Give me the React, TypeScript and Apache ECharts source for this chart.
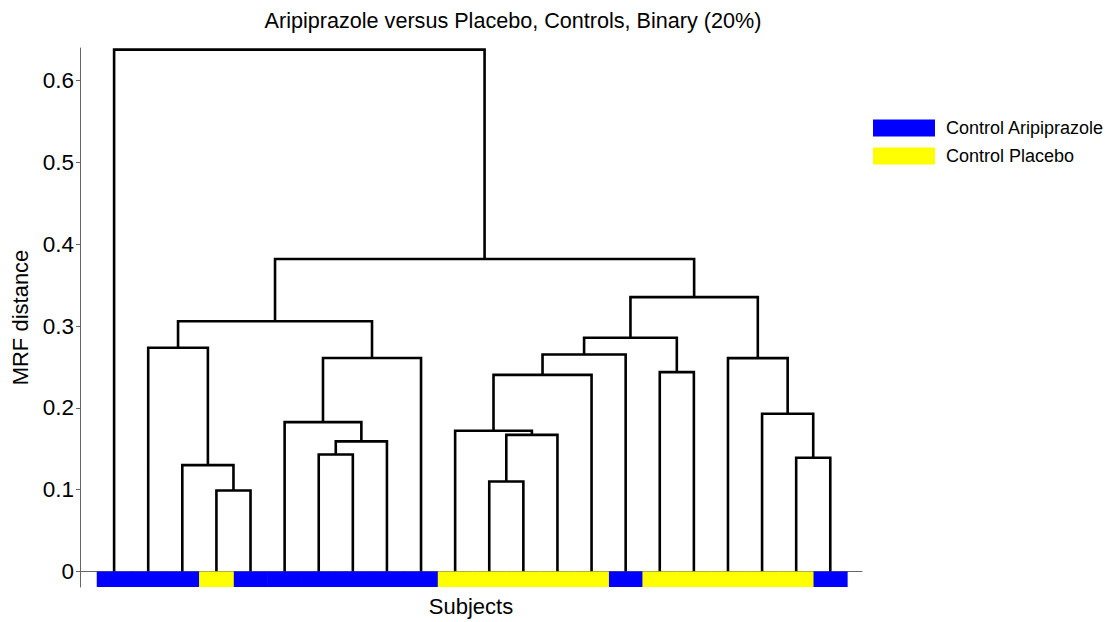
import React, { useEffect, useRef } from "react";
import * as echarts from "echarts";

// Leaf groups in display order (left to right)
const leafGroups = [
  "Control Aripiprazole", "Control Aripiprazole", "Control Aripiprazole", "Control Placebo",
  "Control Aripiprazole", "Control Aripiprazole", "Control Aripiprazole", "Control Aripiprazole",
  "Control Aripiprazole", "Control Aripiprazole", "Control Placebo", "Control Placebo",
  "Control Placebo", "Control Placebo", "Control Placebo", "Control Aripiprazole",
  "Control Placebo", "Control Placebo", "Control Placebo", "Control Placebo",
  "Control Placebo", "Control Aripiprazole",
];

// Linkage: node ids 0..21 are leaves, 22.. are merges in order
const mergeLeft = [3, 2, 1, 6, 25, 5, 27, 24, 11, 30, 10, 32, 33, 16, 34, 20, 19, 18, 36, 29, 0];
const mergeRight = [4, 22, 23, 7, 8, 26, 9, 28, 12, 13, 31, 14, 15, 17, 35, 21, 37, 38, 39, 40, 41];
const mergeHeight = [0.099, 0.130, 0.2735, 0.143, 0.159, 0.1826, 0.261, 0.306, 0.110, 0.167, 0.172, 0.2404, 0.2653, 0.2437, 0.2857, 0.139, 0.1928, 0.2608, 0.3354, 0.382, 0.638];

const groupNames = ["Control Aripiprazole", "Control Placebo"];
const groupColors = ["#0000ff", "#ffff00"];
const yTicks = [0, 0.1, 0.2, 0.3, 0.4, 0.5, 0.6];

const Y_MIN = -0.019;
const Y_MAX = 0.64;
const X_MAX = 22.93;

export default function App() {
  const ref = useRef<HTMLDivElement>(null);

  useEffect(() => {
    if (!ref.current) return;
    const chart = echarts.init(ref.current, null, { renderer: "svg" });

    const nodeX: number[] = leafGroups.map((_, i) => i + 1);
    const nodeH: number[] = leafGroups.map(() => 0);
    const links: number[][] = [];
    for (let k = 0; k < mergeLeft.length; k++) {
      const l = mergeLeft[k];
      const r = mergeRight[k];
      links.push([nodeX[l], nodeH[l], nodeX[r], nodeH[r], mergeHeight[k]]);
      nodeX.push((nodeX[l] + nodeX[r]) / 2);
      nodeH.push(mergeHeight[k]);
    }

    const font = "'Liberation Sans', Arial, Helvetica, sans-serif";

    const stripSeries = groupNames.map((g, gi) => ({
      type: "custom",
      name: g,
      itemStyle: { color: groupColors[gi] },
      z: 5,
      data: leafGroups.map((lg, i) => (lg === g ? [i + 1, 0] : null)).filter((d) => d !== null),
      encode: { x: 0, y: 1 },
      renderItem: (params: any, api: any) => {
        const x = api.value(0);
        const a = api.coord([x - 0.5, 0]);
        const b = api.coord([x + 0.5, Y_MIN]);
        return {
          type: "rect",
          shape: { x: a[0] - 0.3, y: a[1], width: b[0] - a[0] + 0.6, height: b[1] - a[1] },
          style: { fill: groupColors[gi] },
        };
      },
    }));

    chart.setOption({
      animation: false,
      title: {
        text: "Aripiprazole versus Placebo, Controls, Binary (20%)",
        left: 508,
        top: 4,
        textAlign: "center",
        textStyle: { fontSize: 21.6, fontWeight: "normal", color: "#000", fontFamily: font },
      },
      legend: {
        orient: "vertical",
        left: 868,
        top: 114,
        icon: "rect",
        itemWidth: 62,
        itemHeight: 17,
        itemGap: 10,
        data: groupNames,
        textStyle: { fontSize: 18, color: "#000", fontFamily: font, padding: [0, 0, 0, 6] },
      },
      grid: { left: 80, right: 250, top: 48, bottom: 35, containLabel: false },
      xAxis: {
        type: "value",
        min: 0,
        max: X_MAX,
        name: "Subjects",
        nameLocation: "middle",
        nameGap: 8,
        nameTextStyle: { fontSize: 22, color: "#000", fontFamily: font, verticalAlign: "top" },
        axisLine: { show: true, lineStyle: { color: "#666", width: 1 } },
        axisTick: { show: false },
        axisLabel: { show: false },
        splitLine: { show: false },
      },
      yAxis: {
        type: "value",
        min: Y_MIN,
        max: Y_MAX,
        name: "MRF distance",
        nameLocation: "middle",
        nameGap: 47,
        nameTextStyle: { fontSize: 22, color: "#000", fontFamily: font },
        axisLine: { show: true, lineStyle: { color: "#666", width: 1 } },
        axisTick: { show: true, inside: false, length: 4, customValues: yTicks, lineStyle: { color: "#666" } },
        axisLabel: { show: true, margin: 6, customValues: yTicks, fontSize: 22.5, color: "#000", fontFamily: font },
        splitLine: { show: false },
      },
      series: [
        {
          type: "custom",
          name: "dendrogram",
          z: 3,
          data: links,
          encode: { x: [0, 2], y: [1, 3, 4] },
          renderItem: (params: any, api: any) => {
            const p0 = api.coord([api.value(0), api.value(1)]);
            const p1 = api.coord([api.value(0), api.value(4)]);
            const p2 = api.coord([api.value(2), api.value(4)]);
            const p3 = api.coord([api.value(2), api.value(3)]);
            return {
              type: "polyline",
              shape: { points: [p0, p1, p2, p3] },
              style: { stroke: "#000", lineWidth: 2.6, fill: "none", lineJoin: "miter" },
            };
          },
        },
        ...stripSeries,
      ],
    });

    return () => chart.dispose();
  }, []);

  return (
    <div
      ref={ref}
      style={{ position: "fixed", left: 0, top: 0, width: 1112, height: 622, background: "#fff" }}
    />
  );
}
